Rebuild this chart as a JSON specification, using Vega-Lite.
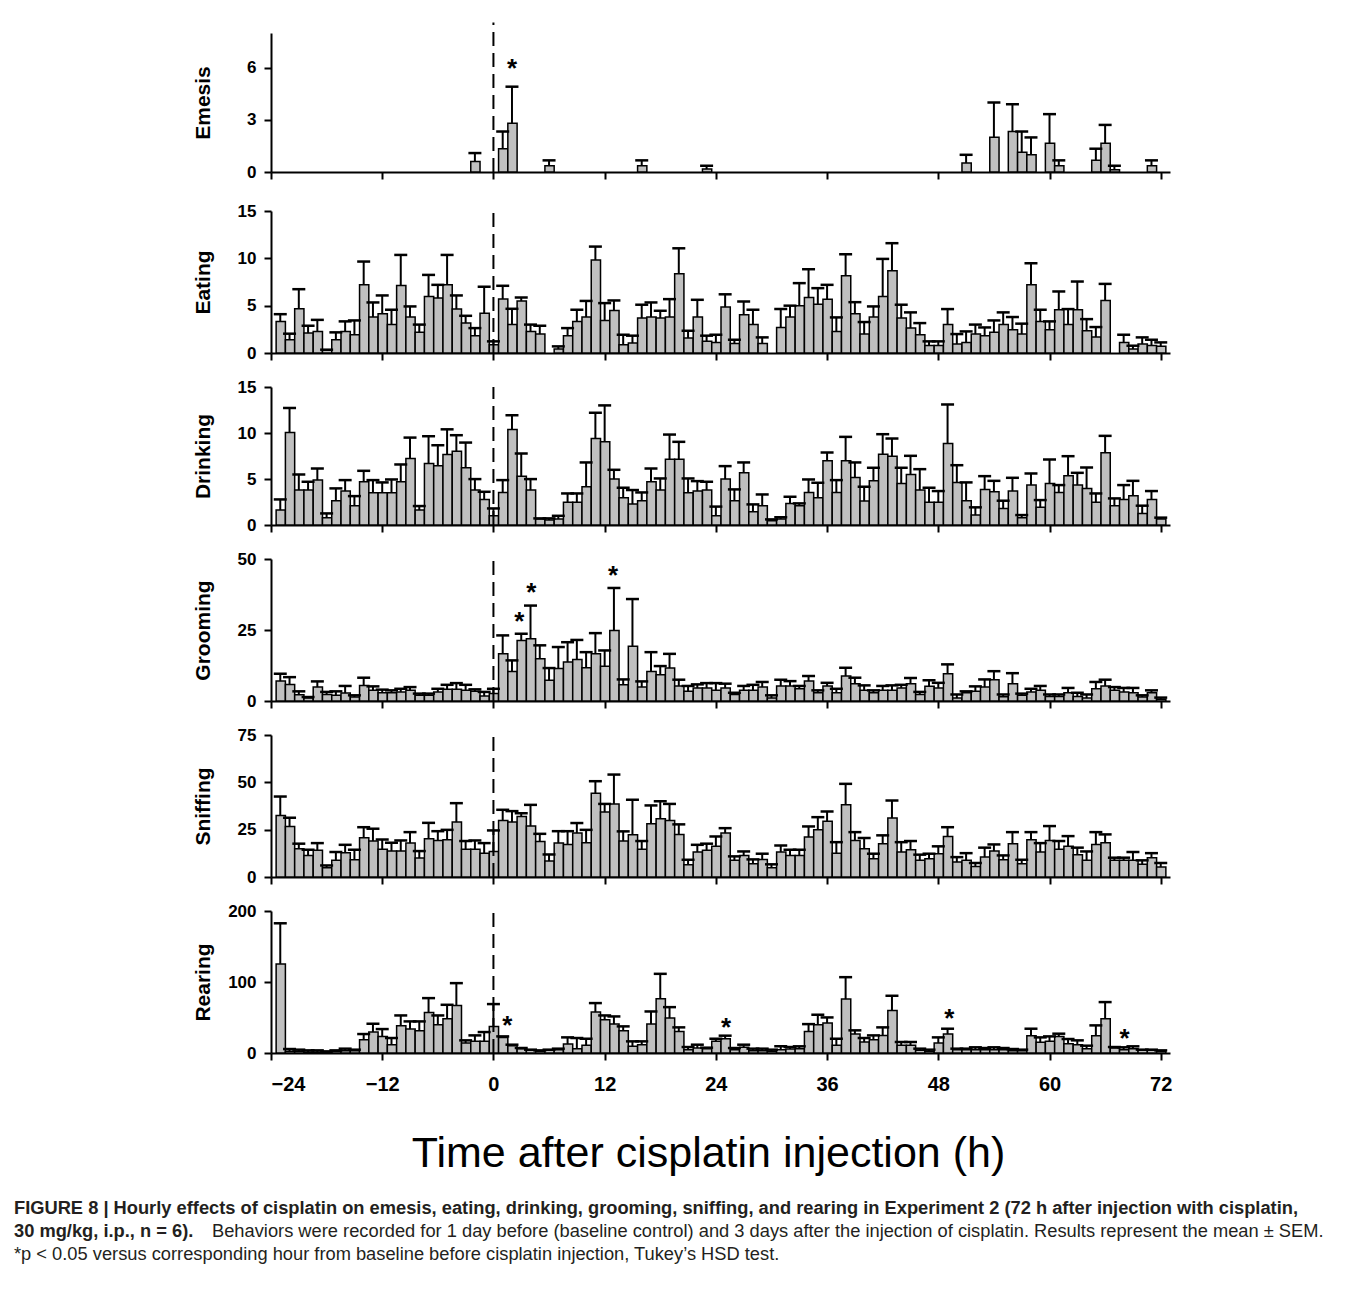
{
"$schema": "https://vega.github.io/schema/vega-lite/v6.json",
"background": "white",
"padding": {"left": 14, "top": 21, "right": 8, "bottom": 10},
"config": {
  "view": {"stroke": null},
  "font": "Liberation Sans",
  "axis": {"domainColor": "black", "domainWidth": 2, "tickColor": "black", "tickWidth": 2, "tickSize": 7, "labelFont": "Liberation Sans", "labelFontWeight": "bold", "labelFontSize": 17, "labelColor": "black", "titleFont": "Liberation Sans", "titleFontWeight": "bold", "titleFontSize": 21, "titleColor": "black", "grid": false, "labelPadding": 8},
  "axisLeft": {"minExtent": 257, "maxExtent": 257}
},
"datasets": {
"em": [{"h":-2,"v":0.61,"u":1.09},{"h":1,"v":1.34,"u":2.33},{"h":2,"v":2.81,"u":4.91},{"h":6,"v":0.36,"u":0.67},{"h":16,"v":0.36,"u":0.67},{"h":23,"v":0.17,"u":0.36},{"h":51,"v":0.52,"u":0.99},{"h":54,"v":2.0,"u":4.0},{"h":56,"v":2.33,"u":3.9},{"h":57,"v":1.13,"u":2.33},{"h":58,"v":0.99,"u":1.99},{"h":60,"v":1.66,"u":3.33},{"h":61,"v":0.36,"u":0.67},{"h":65,"v":0.67,"u":1.34},{"h":66,"v":1.66,"u":2.71},{"h":67,"v":0.13,"u":0.36},{"h":71,"v":0.36,"u":0.67}],
"ea": [{"h":-23,"v":3.34,"u":4.1},{"h":-22,"v":1.4,"u":2.04},{"h":-21,"v":4.67,"u":6.74},{"h":-20,"v":2.1,"u":2.88},{"h":-19,"v":2.28,"u":3.5},{"h":-18,"v":0.3,"u":0.35},{"h":-17,"v":1.4,"u":2.18},{"h":-16,"v":2.28,"u":3.34},{"h":-15,"v":1.93,"u":3.44},{"h":-14,"v":7.2,"u":9.66},{"h":-13,"v":3.8,"u":5.34},{"h":-12,"v":4.14,"u":6.08},{"h":-11,"v":3.0,"u":4.57},{"h":-10,"v":7.13,"u":10.36},{"h":-9,"v":3.8,"u":4.92},{"h":-8,"v":2.18,"u":3.0},{"h":-7,"v":5.97,"u":8.25},{"h":-6,"v":5.8,"u":7.2},{"h":-5,"v":7.2,"u":10.36},{"h":-4,"v":4.64,"u":6.08},{"h":-3,"v":3.16,"u":3.93},{"h":-2,"v":1.83,"u":2.63},{"h":-1,"v":4.2,"u":7.0},{"h":0,"v":0.88,"u":1.23},{"h":1,"v":5.7,"u":7.1},{"h":2,"v":3.0,"u":4.67},{"h":3,"v":5.5,"u":5.87},{"h":4,"v":2.28,"u":3.0},{"h":5,"v":2.0,"u":2.88},{"h":7,"v":0.42,"u":0.7},{"h":8,"v":1.83,"u":2.63},{"h":9,"v":3.34,"u":4.57},{"h":10,"v":3.8,"u":5.5},{"h":11,"v":9.83,"u":11.24},{"h":12,"v":3.44,"u":5.27},{"h":13,"v":4.5,"u":5.55},{"h":14,"v":0.88,"u":1.93},{"h":15,"v":1.05,"u":1.83},{"h":16,"v":3.69,"u":5.1},{"h":17,"v":3.8,"u":5.34},{"h":18,"v":3.69,"u":4.46},{"h":19,"v":3.8,"u":5.69},{"h":20,"v":8.36,"u":11.06},{"h":21,"v":1.58,"u":2.35},{"h":22,"v":3.8,"u":5.62},{"h":23,"v":1.23,"u":1.83},{"h":24,"v":1.12,"u":1.93},{"h":25,"v":4.85,"u":6.2},{"h":26,"v":1.0,"u":1.4},{"h":27,"v":4.04,"u":5.44},{"h":28,"v":3.0,"u":4.57},{"h":29,"v":1.0,"u":1.65},{"h":31,"v":2.7,"u":4.64},{"h":32,"v":3.8,"u":5.0},{"h":33,"v":5.0,"u":7.38},{"h":34,"v":5.87,"u":8.85},{"h":35,"v":5.16,"u":6.85},{"h":36,"v":5.69,"u":7.2},{"h":37,"v":2.28,"u":3.76},{"h":38,"v":8.15,"u":10.43},{"h":39,"v":4.14,"u":5.37},{"h":40,"v":2.0,"u":3.27},{"h":41,"v":3.8,"u":4.92},{"h":42,"v":5.97,"u":9.94},{"h":43,"v":8.68,"u":11.6},{"h":44,"v":3.69,"u":5.1},{"h":45,"v":2.63,"u":4.29},{"h":46,"v":1.93,"u":3.16},{"h":47,"v":0.8,"u":1.23},{"h":48,"v":0.8,"u":1.23},{"h":49,"v":3.0,"u":4.64},{"h":50,"v":0.95,"u":2.0},{"h":51,"v":1.12,"u":2.28},{"h":52,"v":2.0,"u":3.0},{"h":53,"v":1.83,"u":2.7},{"h":54,"v":2.18,"u":3.44},{"h":55,"v":3.0,"u":4.29},{"h":56,"v":2.46,"u":3.8},{"h":57,"v":2.0,"u":3.1},{"h":58,"v":7.2,"u":9.48},{"h":59,"v":3.34,"u":4.57},{"h":60,"v":2.46,"u":3.34},{"h":61,"v":4.57,"u":6.5},{"h":62,"v":3.0,"u":4.64},{"h":63,"v":4.57,"u":7.55},{"h":64,"v":2.35,"u":3.58},{"h":65,"v":1.69,"u":2.74},{"h":66,"v":5.55,"u":7.3},{"h":68,"v":1.12,"u":1.93},{"h":69,"v":0.42,"u":0.77},{"h":70,"v":0.95,"u":1.65},{"h":71,"v":0.8,"u":1.4},{"h":72,"v":0.7,"u":1.12}],
"dr": [{"h":-23,"v":1.63,"u":2.78},{"h":-22,"v":10.05,"u":12.72},{"h":-21,"v":3.8,"u":5.49},{"h":-20,"v":3.8,"u":4.7},{"h":-19,"v":4.88,"u":6.14},{"h":-18,"v":0.8,"u":1.26},{"h":-17,"v":2.64,"u":3.98},{"h":-16,"v":3.69,"u":4.88},{"h":-15,"v":2.1,"u":3.14},{"h":-14,"v":4.7,"u":5.89},{"h":-13,"v":3.5,"u":4.88},{"h":-12,"v":3.5,"u":4.63},{"h":-11,"v":3.5,"u":4.95},{"h":-10,"v":4.7,"u":6.58},{"h":-9,"v":7.23,"u":9.5},{"h":-8,"v":1.63,"u":2.06},{"h":-7,"v":6.69,"u":9.65},{"h":-6,"v":6.43,"u":8.67},{"h":-5,"v":7.66,"u":10.4},{"h":-4,"v":8.02,"u":9.76},{"h":-3,"v":6.22,"u":8.96},{"h":-2,"v":3.8,"u":4.99},{"h":-1,"v":2.78,"u":3.61},{"h":0,"v":1.01,"u":1.8},{"h":1,"v":3.54,"u":4.88},{"h":2,"v":10.37,"u":11.93},{"h":3,"v":5.31,"u":7.77},{"h":4,"v":3.8,"u":4.99},{"h":5,"v":0.65,"u":0.72},{"h":6,"v":0.54,"u":0.72},{"h":7,"v":0.65,"u":1.0},{"h":8,"v":2.46,"u":3.43},{"h":9,"v":2.46,"u":3.43},{"h":10,"v":4.16,"u":6.8},{"h":11,"v":9.4,"u":12.2},{"h":12,"v":9.04,"u":13.0},{"h":13,"v":4.99,"u":6.0},{"h":14,"v":2.96,"u":4.05},{"h":15,"v":2.28,"u":3.8},{"h":16,"v":2.64,"u":3.54},{"h":17,"v":4.7,"u":6.14},{"h":18,"v":3.8,"u":5.06},{"h":19,"v":7.16,"u":9.83},{"h":20,"v":7.16,"u":9.04},{"h":21,"v":3.5,"u":5.06},{"h":22,"v":3.69,"u":4.77},{"h":23,"v":3.8,"u":4.7},{"h":24,"v":1.0,"u":2.0},{"h":25,"v":4.99,"u":6.4},{"h":26,"v":2.64,"u":3.87},{"h":27,"v":5.67,"u":6.8},{"h":28,"v":1.45,"u":2.24},{"h":29,"v":2.1,"u":3.32},{"h":30,"v":0.47,"u":0.61},{"h":31,"v":0.65,"u":0.83},{"h":32,"v":2.35,"u":3.07},{"h":33,"v":2.1,"u":2.35},{"h":34,"v":3.54,"u":4.95},{"h":35,"v":2.96,"u":4.59},{"h":36,"v":6.98,"u":7.88},{"h":37,"v":3.54,"u":4.88},{"h":38,"v":6.98,"u":9.58},{"h":39,"v":5.17,"u":6.8},{"h":40,"v":2.6,"u":4.16},{"h":41,"v":4.8,"u":6.22},{"h":42,"v":7.7,"u":9.87},{"h":43,"v":7.48,"u":9.4},{"h":44,"v":4.52,"u":6.22},{"h":45,"v":5.49,"u":7.52},{"h":46,"v":3.8,"u":6.07},{"h":47,"v":2.46,"u":4.05},{"h":48,"v":2.46,"u":3.69},{"h":49,"v":8.85,"u":13.1},{"h":50,"v":4.63,"u":6.5},{"h":51,"v":2.64,"u":4.63},{"h":52,"v":1.08,"u":1.92},{"h":53,"v":3.87,"u":5.31},{"h":54,"v":3.61,"u":4.8},{"h":55,"v":1.8,"u":2.64},{"h":56,"v":3.69,"u":5.13},{"h":57,"v":0.8,"u":1.08},{"h":58,"v":4.34,"u":5.6},{"h":59,"v":1.92,"u":2.71},{"h":60,"v":4.52,"u":7.12},{"h":61,"v":3.54,"u":4.34},{"h":62,"v":5.35,"u":7.48},{"h":63,"v":4.34,"u":5.67},{"h":64,"v":3.98,"u":6.25},{"h":65,"v":2.46,"u":3.43},{"h":66,"v":7.84,"u":9.69},{"h":67,"v":2.1,"u":2.89},{"h":68,"v":2.78,"u":4.34},{"h":69,"v":3.18,"u":4.8},{"h":70,"v":1.26,"u":2.1},{"h":71,"v":2.78,"u":3.69},{"h":72,"v":0.65,"u":0.8}],
"gr": [{"h":-23,"v":7.0,"u":9.6},{"h":-22,"v":5.85,"u":8.4},{"h":-21,"v":2.2,"u":3.4},{"h":-20,"v":1.05,"u":1.4},{"h":-19,"v":4.9,"u":6.9},{"h":-18,"v":2.3,"u":3.2},{"h":-17,"v":2.0,"u":3.4},{"h":-16,"v":2.8,"u":5.3},{"h":-15,"v":1.4,"u":2.0},{"h":-14,"v":5.5,"u":8.2},{"h":-13,"v":3.75,"u":5.15},{"h":-12,"v":2.9,"u":4.0},{"h":-11,"v":2.9,"u":3.75},{"h":-10,"v":3.2,"u":4.3},{"h":-9,"v":3.75,"u":4.9},{"h":-8,"v":2.0,"u":2.6},{"h":-7,"v":2.0,"u":2.6},{"h":-6,"v":3.2,"u":4.3},{"h":-5,"v":4.1,"u":5.7},{"h":-4,"v":4.1,"u":6.3},{"h":-3,"v":3.75,"u":5.7},{"h":-2,"v":3.4,"u":4.1},{"h":-1,"v":1.75,"u":3.2},{"h":0,"v":2.6,"u":4.3},{"h":1,"v":16.6,"u":23.1},{"h":2,"v":10.4,"u":14.3},{"h":3,"v":21.3,"u":23.7},{"h":4,"v":21.9,"u":33.6},{"h":5,"v":14.9,"u":19.6},{"h":6,"v":7.3,"u":11.6},{"h":7,"v":11.4,"u":19.0},{"h":8,"v":13.7,"u":20.7},{"h":9,"v":14.6,"u":21.5},{"h":10,"v":11.7,"u":17.2},{"h":11,"v":16.6,"u":23.9},{"h":12,"v":12.2,"u":17.8},{"h":13,"v":24.8,"u":39.8},{"h":14,"v":5.7,"u":7.6},{"h":15,"v":19.3,"u":35.9},{"h":16,"v":4.9,"u":6.9},{"h":17,"v":10.4,"u":17.2},{"h":18,"v":9.25,"u":12.3},{"h":19,"v":11.6,"u":16.6},{"h":20,"v":5.3,"u":7.5},{"h":21,"v":3.4,"u":5.3},{"h":22,"v":4.6,"u":5.85},{"h":23,"v":4.6,"u":6.3},{"h":24,"v":3.75,"u":6.3},{"h":25,"v":4.6,"u":6.1},{"h":26,"v":2.3,"u":2.9},{"h":27,"v":3.75,"u":5.3},{"h":28,"v":3.75,"u":5.7},{"h":29,"v":4.9,"u":6.7},{"h":30,"v":1.05,"u":2.0},{"h":31,"v":5.3,"u":7.5},{"h":32,"v":5.3,"u":7.0},{"h":33,"v":4.3,"u":5.3},{"h":34,"v":7.0,"u":8.8},{"h":35,"v":2.9,"u":3.75},{"h":36,"v":5.3,"u":6.4},{"h":37,"v":2.9,"u":4.3},{"h":38,"v":8.8,"u":11.7},{"h":39,"v":6.1,"u":8.2},{"h":40,"v":3.75,"u":5.5},{"h":41,"v":2.9,"u":3.75},{"h":42,"v":3.75,"u":5.3},{"h":43,"v":3.75,"u":5.5},{"h":44,"v":4.6,"u":5.7},{"h":45,"v":6.1,"u":8.1},{"h":46,"v":2.3,"u":3.2},{"h":47,"v":5.15,"u":7.3},{"h":48,"v":4.6,"u":6.4},{"h":49,"v":9.6,"u":12.9},{"h":50,"v":1.05,"u":2.3},{"h":51,"v":2.9,"u":3.4},{"h":52,"v":3.4,"u":5.15},{"h":53,"v":4.9,"u":7.6},{"h":54,"v":7.5,"u":10.5},{"h":55,"v":1.5,"u":2.3},{"h":56,"v":6.1,"u":9.8},{"h":57,"v":2.0,"u":2.6},{"h":58,"v":3.2,"u":4.3},{"h":59,"v":3.75,"u":5.3},{"h":60,"v":1.6,"u":2.3},{"h":61,"v":1.6,"u":2.3},{"h":62,"v":2.9,"u":4.6},{"h":63,"v":1.6,"u":2.9},{"h":64,"v":1.05,"u":2.3},{"h":65,"v":4.3,"u":6.7},{"h":66,"v":5.3,"u":7.5},{"h":67,"v":3.75,"u":4.9},{"h":68,"v":3.2,"u":4.6},{"h":69,"v":2.9,"u":4.6},{"h":70,"v":1.4,"u":2.0},{"h":71,"v":2.9,"u":3.75},{"h":72,"v":0.6,"u":1.2}],
"sn": [{"h":-23,"v":32.5,"u":42.5},{"h":-22,"v":26.7,"u":31.3},{"h":-21,"v":14.9,"u":17.6},{"h":-20,"v":11.4,"u":14.4},{"h":-19,"v":14.1,"u":17.9},{"h":-18,"v":4.9,"u":6.1},{"h":-17,"v":8.8,"u":13.2},{"h":-16,"v":12.8,"u":17.0},{"h":-15,"v":9.1,"u":14.4},{"h":-14,"v":20.7,"u":26.3},{"h":-13,"v":19.0,"u":25.5},{"h":-12,"v":14.6,"u":19.8},{"h":-11,"v":13.7,"u":18.1},{"h":-10,"v":13.7,"u":19.3},{"h":-9,"v":17.9,"u":23.7},{"h":-8,"v":10.0,"u":13.7},{"h":-7,"v":20.2,"u":28.6},{"h":-6,"v":19.3,"u":24.2},{"h":-5,"v":19.7,"u":24.9},{"h":-4,"v":29.0,"u":39.0},{"h":-3,"v":14.6,"u":19.0},{"h":-2,"v":14.6,"u":19.3},{"h":-1,"v":12.6,"u":17.9},{"h":0,"v":13.5,"u":24.6},{"h":1,"v":29.9,"u":35.5},{"h":2,"v":29.0,"u":34.8},{"h":3,"v":32.0,"u":33.7},{"h":4,"v":26.9,"u":38.1},{"h":5,"v":18.8,"u":22.8},{"h":6,"v":8.4,"u":11.9},{"h":7,"v":17.9,"u":24.2},{"h":8,"v":17.2,"u":24.2},{"h":9,"v":23.2,"u":28.5},{"h":10,"v":18.1,"u":24.9},{"h":11,"v":44.3,"u":50.6},{"h":12,"v":34.3,"u":38.6},{"h":13,"v":38.6,"u":54.1},{"h":14,"v":19.0,"u":24.1},{"h":15,"v":22.3,"u":40.8},{"h":16,"v":14.6,"u":19.0},{"h":17,"v":28.1,"u":37.8},{"h":18,"v":30.7,"u":40.0},{"h":19,"v":29.9,"u":38.6},{"h":20,"v":22.5,"u":27.8},{"h":21,"v":6.5,"u":9.1},{"h":22,"v":13.2,"u":17.0},{"h":23,"v":14.1,"u":17.6},{"h":24,"v":16.2,"u":21.4},{"h":25,"v":23.2,"u":25.8},{"h":26,"v":8.8,"u":10.9},{"h":27,"v":11.4,"u":13.5},{"h":28,"v":7.0,"u":9.3},{"h":29,"v":9.3,"u":12.3},{"h":30,"v":4.9,"u":6.7},{"h":31,"v":13.2,"u":16.7},{"h":32,"v":11.4,"u":14.4},{"h":33,"v":11.4,"u":14.4},{"h":34,"v":21.1,"u":26.7},{"h":35,"v":24.9,"u":31.6},{"h":36,"v":29.5,"u":34.6},{"h":37,"v":12.6,"u":18.4},{"h":38,"v":38.1,"u":49.2},{"h":39,"v":19.3,"u":23.7},{"h":40,"v":14.9,"u":20.6},{"h":41,"v":9.7,"u":12.3},{"h":42,"v":17.6,"u":22.0},{"h":43,"v":31.1,"u":40.4},{"h":44,"v":13.2,"u":18.4},{"h":45,"v":14.4,"u":19.0},{"h":46,"v":8.8,"u":11.8},{"h":47,"v":9.7,"u":12.3},{"h":48,"v":12.3,"u":16.2},{"h":49,"v":21.4,"u":26.3},{"h":50,"v":7.9,"u":10.5},{"h":51,"v":8.8,"u":12.6},{"h":52,"v":5.6,"u":7.4},{"h":53,"v":10.5,"u":15.5},{"h":54,"v":13.7,"u":17.2},{"h":55,"v":9.1,"u":11.4},{"h":56,"v":17.6,"u":23.7},{"h":57,"v":7.0,"u":9.1},{"h":58,"v":19.7,"u":23.7},{"h":59,"v":13.2,"u":17.9},{"h":60,"v":19.3,"u":26.9},{"h":61,"v":14.6,"u":19.0},{"h":62,"v":16.2,"u":21.6},{"h":63,"v":11.8,"u":15.5},{"h":64,"v":8.8,"u":13.5},{"h":65,"v":17.2,"u":23.7},{"h":66,"v":18.1,"u":22.5},{"h":67,"v":8.8,"u":10.2},{"h":68,"v":8.8,"u":10.2},{"h":69,"v":8.8,"u":13.2},{"h":70,"v":6.7,"u":8.8},{"h":71,"v":10.2,"u":12.6},{"h":72,"v":5.3,"u":7.4}],
"re": [{"h":-23,"v":125.5,"u":182.7},{"h":-22,"v":2.3,"u":5.6},{"h":-21,"v":2.3,"u":4.7},{"h":-20,"v":1.4,"u":3.7},{"h":-19,"v":1.4,"u":3.7},{"h":-18,"v":0.9,"u":2.3},{"h":-17,"v":2.3,"u":3.7},{"h":-16,"v":3.3,"u":6.1},{"h":-15,"v":3.3,"u":4.7},{"h":-14,"v":18.7,"u":26.7},{"h":-13,"v":29.5,"u":41.2},{"h":-12,"v":23.4,"u":33.7},{"h":-11,"v":11.7,"u":21.1},{"h":-10,"v":38.4,"u":52.9},{"h":-9,"v":33.7,"u":44.5},{"h":-8,"v":31.4,"u":44.5},{"h":-7,"v":57.1,"u":77.3},{"h":-6,"v":39.8,"u":52.9},{"h":-5,"v":48.2,"u":67.9},{"h":-4,"v":67.0,"u":98.4},{"h":-3,"v":14.1,"u":17.8},{"h":-2,"v":16.4,"u":24.8},{"h":-1,"v":16.4,"u":29.5},{"h":0,"v":37.5,"u":68.9},{"h":1,"v":22.0,"u":23.4},{"h":2,"v":10.3,"u":11.7},{"h":3,"v":6.1,"u":7.0},{"h":4,"v":3.7,"u":4.7},{"h":5,"v":2.3,"u":3.7},{"h":6,"v":3.7,"u":4.7},{"h":7,"v":4.7,"u":6.1},{"h":8,"v":12.6,"u":22.0},{"h":9,"v":6.1,"u":21.1},{"h":10,"v":10.8,"u":20.1},{"h":11,"v":57.6,"u":70.3},{"h":12,"v":46.8,"u":52.9},{"h":13,"v":40.7,"u":51.5},{"h":14,"v":31.4,"u":37.5},{"h":15,"v":9.4,"u":16.4},{"h":16,"v":11.7,"u":16.4},{"h":17,"v":40.7,"u":58.5},{"h":18,"v":76.3,"u":111.5},{"h":19,"v":49.2,"u":64.6},{"h":20,"v":30.4,"u":36.1},{"h":21,"v":4.7,"u":8.4},{"h":22,"v":7.0,"u":11.7},{"h":23,"v":6.1,"u":7.5},{"h":24,"v":16.4,"u":20.1},{"h":25,"v":20.1,"u":24.4},{"h":26,"v":4.7,"u":7.0},{"h":27,"v":8.0,"u":11.7},{"h":28,"v":3.3,"u":6.1},{"h":29,"v":3.3,"u":6.1},{"h":30,"v":2.3,"u":4.7},{"h":31,"v":4.7,"u":9.4},{"h":32,"v":5.6,"u":8.4},{"h":33,"v":6.1,"u":9.4},{"h":34,"v":30.4,"u":40.7},{"h":35,"v":39.8,"u":53.9},{"h":36,"v":42.2,"u":50.1},{"h":37,"v":10.8,"u":20.1},{"h":38,"v":75.9,"u":106.8},{"h":39,"v":26.7,"u":31.9},{"h":40,"v":15.5,"u":21.1},{"h":41,"v":18.7,"u":24.8},{"h":42,"v":24.8,"u":36.1},{"h":43,"v":60.0,"u":80.6},{"h":44,"v":10.8,"u":15.5},{"h":45,"v":10.8,"u":15.5},{"h":46,"v":3.7,"u":6.1},{"h":47,"v":2.3,"u":4.7},{"h":48,"v":14.1,"u":22.0},{"h":49,"v":26.7,"u":34.2},{"h":50,"v":4.7,"u":6.1},{"h":51,"v":4.7,"u":6.1},{"h":52,"v":4.7,"u":8.0},{"h":53,"v":4.7,"u":7.0},{"h":54,"v":4.7,"u":8.0},{"h":55,"v":4.7,"u":7.0},{"h":56,"v":3.3,"u":5.6},{"h":57,"v":3.3,"u":4.7},{"h":58,"v":24.4,"u":34.2},{"h":59,"v":15.0,"u":22.0},{"h":60,"v":16.4,"u":23.4},{"h":61,"v":23.4,"u":27.2},{"h":62,"v":13.1,"u":19.7},{"h":63,"v":11.7,"u":17.8},{"h":64,"v":6.1,"u":10.3},{"h":65,"v":24.4,"u":38.9},{"h":66,"v":48.2,"u":71.7},{"h":67,"v":7.0,"u":8.4},{"h":68,"v":4.7,"u":8.0},{"h":69,"v":6.1,"u":9.4},{"h":70,"v":3.7,"u":4.7},{"h":71,"v":3.7,"u":4.7},{"h":72,"v":2.3,"u":3.7}],
"ast": [{"p":"Emesis","h":2.0,"y":6.3},{"p":"Grooming","h":2.8,"y":30},{"p":"Grooming","h":4.1,"y":40},{"p":"Grooming","h":12.9,"y":46},{"p":"Rearing","h":1.5,"y":47},{"p":"Rearing","h":25.1,"y":44},{"p":"Rearing","h":49.2,"y":56},{"p":"Rearing","h":68.1,"y":28}],
"cap": [{"line":1,"k":"b","t":"FIGURE 8 | Hourly effects of cisplatin on emesis, eating, drinking, grooming, sniffing, and rearing in Experiment 2 (72 h after injection with cisplatin,"},{"line":2,"k":"b","t":"30 mg/kg, i.p., n = 6)."},{"line":2,"k":"n","t":"Behaviors were recorded for 1 day before (baseline control) and 3 days after the injection of cisplatin. Results represent the mean ± SEM."},{"line":3,"k":"m","t":"*p < 0.05 versus corresponding hour from baseline before cisplatin injection, Tukey’s HSD test."}]
},
"vconcat": [
{"spacing": 22, "vconcat": [
{
"width": 899, "height": 139,
"layer": [
{"data": {"name": "em"}, "mark": {"type": "bar", "fill": "#c0c0c0", "stroke": "black", "strokeWidth": 1.5, "binSpacing": 0},
 "encoding": {"x": {"field": "h", "type": "quantitative", "bin": {"step": 1, "extent": [-23.5, 72.5], "nice": false}, "scale": {"domain": [-24, 73], "nice": false, "zero": false}, "axis": {"values": [-24,-12,0,12,24,36,48,60,72], "labels": false, "title": null}},
  "y": {"field": "v", "type": "quantitative", "scale": {"domain": [0, 8], "nice": false}, "axis": {"title": "Emesis", "values": [0,3,6], "titleX": -58}}}},
{"data": {"name": "em"}, "mark": {"type": "rule", "color": "black", "strokeWidth": 2}, "encoding": {"x": {"field": "h", "type": "quantitative"}, "y": {"field": "v", "type": "quantitative"}, "y2": {"field": "u"}}},
{"data": {"name": "em"}, "mark": {"type": "tick", "orient": "horizontal", "color": "black", "opacity": 1, "size": 13, "thickness": 2.5}, "encoding": {"x": {"field": "h", "type": "quantitative"}, "y": {"field": "u", "type": "quantitative"}}},
{"data": {"values": [{}]}, "mark": {"type": "rule", "strokeDash": [14, 7], "strokeWidth": 2, "color": "black"}, "encoding": {"x": {"datum": 0}, "y": {"datum": 0}, "y2": {"datum": 8.6}}},
{"data": {"name": "ast"}, "transform": [{"filter": "datum.p == 'Emesis'"}], "mark": {"type": "text", "text": "*", "fontSize": 26, "fontWeight": "bold", "baseline": "middle", "dy": 6, "color": "black"}, "encoding": {"x": {"field": "h", "type": "quantitative"}, "y": {"field": "y", "type": "quantitative"}}}
]
},
{"spacing": 17, "vconcat": [
{
"width": 899, "height": 142,
"layer": [
{"data": {"name": "ea"}, "mark": {"type": "bar", "fill": "#c0c0c0", "stroke": "black", "strokeWidth": 1.5, "binSpacing": 0},
 "encoding": {"x": {"field": "h", "type": "quantitative", "bin": {"step": 1, "extent": [-23.5, 72.5], "nice": false}, "scale": {"domain": [-24, 73], "nice": false, "zero": false}, "axis": {"values": [-24,-12,0,12,24,36,48,60,72], "labels": false, "title": null}},
  "y": {"field": "v", "type": "quantitative", "scale": {"domain": [0, 15], "nice": false}, "axis": {"title": "Eating", "values": [0,5,10,15], "titleX": -58}}}},
{"data": {"name": "ea"}, "mark": {"type": "rule", "color": "black", "strokeWidth": 2}, "encoding": {"x": {"field": "h", "type": "quantitative"}, "y": {"field": "v", "type": "quantitative"}, "y2": {"field": "u"}}},
{"data": {"name": "ea"}, "mark": {"type": "tick", "orient": "horizontal", "color": "black", "opacity": 1, "size": 13, "thickness": 2.5}, "encoding": {"x": {"field": "h", "type": "quantitative"}, "y": {"field": "u", "type": "quantitative"}}},
{"data": {"values": [{}]}, "mark": {"type": "rule", "strokeDash": [14, 7], "strokeWidth": 2, "color": "black"}, "encoding": {"x": {"datum": 0}, "y": {"datum": 0}, "y2": {"datum": 15}}}
]
},
{
"width": 899, "height": 138,
"layer": [
{"data": {"name": "dr"}, "mark": {"type": "bar", "fill": "#c0c0c0", "stroke": "black", "strokeWidth": 1.5, "binSpacing": 0},
 "encoding": {"x": {"field": "h", "type": "quantitative", "bin": {"step": 1, "extent": [-23.5, 72.5], "nice": false}, "scale": {"domain": [-24, 73], "nice": false, "zero": false}, "axis": {"values": [-24,-12,0,12,24,36,48,60,72], "labels": false, "title": null}},
  "y": {"field": "v", "type": "quantitative", "scale": {"domain": [0, 15], "nice": false}, "axis": {"title": "Drinking", "values": [0,5,10,15], "titleX": -58}}}},
{"data": {"name": "dr"}, "mark": {"type": "rule", "color": "black", "strokeWidth": 2}, "encoding": {"x": {"field": "h", "type": "quantitative"}, "y": {"field": "v", "type": "quantitative"}, "y2": {"field": "u"}}},
{"data": {"name": "dr"}, "mark": {"type": "tick", "orient": "horizontal", "color": "black", "opacity": 1, "size": 13, "thickness": 2.5}, "encoding": {"x": {"field": "h", "type": "quantitative"}, "y": {"field": "u", "type": "quantitative"}}},
{"data": {"values": [{}]}, "mark": {"type": "rule", "strokeDash": [14, 7], "strokeWidth": 2, "color": "black"}, "encoding": {"x": {"datum": 0}, "y": {"datum": 0}, "y2": {"datum": 15}}}
]
},
{
"width": 899, "height": 142,
"layer": [
{"data": {"name": "gr"}, "mark": {"type": "bar", "fill": "#c0c0c0", "stroke": "black", "strokeWidth": 1.5, "binSpacing": 0},
 "encoding": {"x": {"field": "h", "type": "quantitative", "bin": {"step": 1, "extent": [-23.5, 72.5], "nice": false}, "scale": {"domain": [-24, 73], "nice": false, "zero": false}, "axis": {"values": [-24,-12,0,12,24,36,48,60,72], "labels": false, "title": null}},
  "y": {"field": "v", "type": "quantitative", "scale": {"domain": [0, 50], "nice": false}, "axis": {"title": "Grooming", "values": [0,25,50], "titleX": -58}}}},
{"data": {"name": "gr"}, "mark": {"type": "rule", "color": "black", "strokeWidth": 2}, "encoding": {"x": {"field": "h", "type": "quantitative"}, "y": {"field": "v", "type": "quantitative"}, "y2": {"field": "u"}}},
{"data": {"name": "gr"}, "mark": {"type": "tick", "orient": "horizontal", "color": "black", "opacity": 1, "size": 13, "thickness": 2.5}, "encoding": {"x": {"field": "h", "type": "quantitative"}, "y": {"field": "u", "type": "quantitative"}}},
{"data": {"values": [{}]}, "mark": {"type": "rule", "strokeDash": [14, 7], "strokeWidth": 2, "color": "black"}, "encoding": {"x": {"datum": 0}, "y": {"datum": 0}, "y2": {"datum": 50}}},
{"data": {"name": "ast"}, "transform": [{"filter": "datum.p == 'Grooming'"}], "mark": {"type": "text", "text": "*", "fontSize": 26, "fontWeight": "bold", "baseline": "middle", "dy": 6, "color": "black"}, "encoding": {"x": {"field": "h", "type": "quantitative"}, "y": {"field": "y", "type": "quantitative"}}}
]
},
{
"width": 899, "height": 142,
"layer": [
{"data": {"name": "sn"}, "mark": {"type": "bar", "fill": "#c0c0c0", "stroke": "black", "strokeWidth": 1.5, "binSpacing": 0},
 "encoding": {"x": {"field": "h", "type": "quantitative", "bin": {"step": 1, "extent": [-23.5, 72.5], "nice": false}, "scale": {"domain": [-24, 73], "nice": false, "zero": false}, "axis": {"values": [-24,-12,0,12,24,36,48,60,72], "labels": false, "title": null}},
  "y": {"field": "v", "type": "quantitative", "scale": {"domain": [0, 75], "nice": false}, "axis": {"title": "Sniffing", "values": [0,25,50,75], "titleX": -58}}}},
{"data": {"name": "sn"}, "mark": {"type": "rule", "color": "black", "strokeWidth": 2}, "encoding": {"x": {"field": "h", "type": "quantitative"}, "y": {"field": "v", "type": "quantitative"}, "y2": {"field": "u"}}},
{"data": {"name": "sn"}, "mark": {"type": "tick", "orient": "horizontal", "color": "black", "opacity": 1, "size": 13, "thickness": 2.5}, "encoding": {"x": {"field": "h", "type": "quantitative"}, "y": {"field": "u", "type": "quantitative"}}},
{"data": {"values": [{}]}, "mark": {"type": "rule", "strokeDash": [14, 7], "strokeWidth": 2, "color": "black"}, "encoding": {"x": {"datum": 0}, "y": {"datum": 0}, "y2": {"datum": 75}}}
]
},
{
"width": 899, "height": 142,
"layer": [
{"data": {"name": "re"}, "mark": {"type": "bar", "fill": "#c0c0c0", "stroke": "black", "strokeWidth": 1.5, "binSpacing": 0},
 "encoding": {"x": {"field": "h", "type": "quantitative", "bin": {"step": 1, "extent": [-23.5, 72.5], "nice": false}, "scale": {"domain": [-24, 73], "nice": false, "zero": false}, "axis": {"values": [-24,-12,0,12,24,36,48,60,72], "labels": true, "labelFontSize": 20, "labelPadding": 14, "title": "Time after cisplatin injection (h)", "titleFontSize": 43, "titleFontWeight": "normal", "titlePadding": 38, "titleX": 437}},
  "y": {"field": "v", "type": "quantitative", "scale": {"domain": [0, 200], "nice": false}, "axis": {"title": "Rearing", "values": [0,100,200], "titleX": -58}}}},
{"data": {"name": "re"}, "mark": {"type": "rule", "color": "black", "strokeWidth": 2}, "encoding": {"x": {"field": "h", "type": "quantitative"}, "y": {"field": "v", "type": "quantitative"}, "y2": {"field": "u"}}},
{"data": {"name": "re"}, "mark": {"type": "tick", "orient": "horizontal", "color": "black", "opacity": 1, "size": 13, "thickness": 2.5}, "encoding": {"x": {"field": "h", "type": "quantitative"}, "y": {"field": "u", "type": "quantitative"}}},
{"data": {"values": [{}]}, "mark": {"type": "rule", "strokeDash": [14, 7], "strokeWidth": 2, "color": "black"}, "encoding": {"x": {"datum": 0}, "y": {"datum": 0}, "y2": {"datum": 200}}},
{"data": {"name": "ast"}, "transform": [{"filter": "datum.p == 'Rearing'"}], "mark": {"type": "text", "text": "*", "fontSize": 26, "fontWeight": "bold", "baseline": "middle", "dy": 6, "color": "black"}, "encoding": {"x": {"field": "h", "type": "quantitative"}, "y": {"field": "y", "type": "quantitative"}}}
]
}
]}
]},
{
"width": 899, "height": 46,
"data": {"name": "cap"},
"layer": [
{"transform": [{"filter": "datum.k == 'b'"}], "mark": {"type": "text", "align": "left", "baseline": "middle", "fontSize": 18.3, "fontWeight": "bold", "dx": -257, "color": "#231f20"}, "encoding": {"x": {"datum": 0, "type": "quantitative", "scale": {"domain": [0, 1]}, "axis": null}, "y": {"field": "line", "type": "ordinal", "scale": {"type": "point", "domain": [1, 2, 3], "padding": 0}, "axis": null}, "text": {"field": "t"}}},
{"transform": [{"filter": "datum.k == 'n'"}], "mark": {"type": "text", "align": "left", "baseline": "middle", "fontSize": 18.3, "dx": -59, "color": "#231f20"}, "encoding": {"x": {"datum": 0, "type": "quantitative"}, "y": {"field": "line", "type": "ordinal"}, "text": {"field": "t"}}},
{"transform": [{"filter": "datum.k == 'm'"}], "mark": {"type": "text", "align": "left", "baseline": "middle", "fontSize": 18.3, "dx": -257, "color": "#231f20"}, "encoding": {"x": {"datum": 0, "type": "quantitative"}, "y": {"field": "line", "type": "ordinal"}, "text": {"field": "t"}}}
]
}
],
"spacing": 24
}
